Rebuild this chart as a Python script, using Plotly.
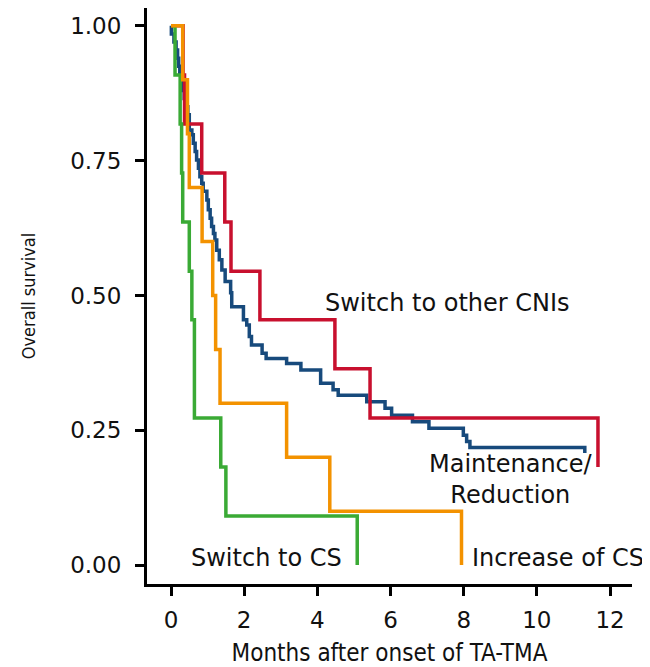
import plotly.graph_objects as go

# ---- data (months, survival probability) ----
months_maint = [0, 0.01, 0.08, 0.14, 0.18, 0.21, 0.24, 0.28, 0.32, 0.36, 0.41, 0.46,
                0.50, 0.57, 0.61, 0.66, 0.70, 0.75, 0.79, 0.84, 0.88, 0.98, 1.02, 1.07,
                1.11, 1.16, 1.20, 1.25, 1.32, 1.39, 1.48, 1.63, 1.66, 1.98, 2.07, 2.14,
                2.20, 2.49, 2.60, 3.16, 3.55, 4.09, 4.43, 4.57, 5.35, 5.85, 6.03, 6.60,
                7.05, 7.99, 8.08, 8.17, 11.31]
surv_maint = [1, 0.985, 0.97, 0.955, 0.94, 0.925, 0.91, 0.895, 0.88, 0.865, 0.85, 0.835,
              0.807, 0.798, 0.782, 0.767, 0.751, 0.736, 0.720, 0.708, 0.693, 0.677, 0.659,
              0.643, 0.628, 0.615, 0.603, 0.584, 0.566, 0.547, 0.526, 0.505, 0.479, 0.455,
              0.445, 0.424, 0.408, 0.393, 0.383, 0.374, 0.362, 0.337, 0.325, 0.315, 0.303,
              0.291, 0.278, 0.266, 0.254, 0.241, 0.229, 0.218, 0.208]

months_cni = [0, 0.33, 0.37, 0.84, 1.47, 1.64, 2.43, 4.48, 5.44, 11.67]
surv_cni = [1, 0.909, 0.818, 0.727, 0.636, 0.545, 0.455, 0.364, 0.273, 0.182]

months_cs_switch = [0, 0.11, 0.25, 0.29, 0.32, 0.50, 0.57, 0.64, 1.36, 1.50, 5.09]
surv_cs_switch = [1, 0.909, 0.818, 0.727, 0.636, 0.545, 0.455, 0.273, 0.182, 0.091, 0.0]

months_cs_incr = [0, 0.32, 0.45, 0.50, 0.85, 1.14, 1.22, 1.34, 3.16, 4.34, 7.94]
surv_cs_incr = [1, 0.9, 0.8, 0.7, 0.6, 0.5, 0.4, 0.3, 0.2, 0.1, 0.0]

x_ticks = [0, 2, 4, 6, 8, 10, 12]
y_ticks = [0, 0.25, 0.5, 0.75, 1.0]
y_tick_labels = ["0.00", "0.25", "0.50", "0.75", "1.00"]

series = [
    ("Maintenance/Reduction", months_maint, surv_maint, "#174a7c"),
    ("Switch to other CNIs", months_cni, surv_cni, "#c8102e"),
    ("Switch to CS", months_cs_switch, surv_cs_switch, "#3aaa35"),
    ("Increase of CS", months_cs_incr, surv_cs_incr, "#f39200"),
]

labels = [
    ("Switch to other CNIs", 7.56, 0.486),
    ("Maintenance/<br>Reduction", 9.29, 0.158),
    ("Switch to CS", 2.62, 0.013),
    ("Increase of CS", 10.57, 0.013),
]

fig = go.Figure()
for name, t, s, c in series:
    fig.add_trace(go.Scatter(x=t, y=s, mode="lines", name=name,
                             line=dict(shape="hv", color=c, width=3.5),
                             showlegend=False))

for text, x, y in labels:
    fig.add_annotation(x=x, y=y, xref="x", yref="y", text=text, showarrow=False,
                       font=dict(family="DejaVu Sans", size=24, color="#111"),
                       align="center", xanchor="center", yanchor="middle")

narrow = "Liberation Sans Narrow, DejaVu Sans Condensed, Arial Narrow, Liberation Sans, sans-serif"
axis_common = dict(showline=True, linecolor="black", linewidth=3, ticks="outside",
                   ticklen=9, tickwidth=2.5, tickcolor="black", showgrid=False,
                   zeroline=False, automargin=False,
                   tickfont=dict(family="DejaVu Sans", size=23, color="#111"))

fig.update_layout(
    width=642, height=659,
    margin=dict(l=139, r=18, t=0, b=83),
    paper_bgcolor="white", plot_bgcolor="white",
    xaxis=dict(range=[-0.656, 12.6], tickvals=x_ticks, ticklabelstandoff=4,
               title=dict(text="Months after onset of TA-TMA",
                          font=dict(family=narrow, size=24, color="#111"), standoff=16),
               **axis_common),
    yaxis=dict(range=[-0.035, 1.033], tickvals=y_ticks, ticktext=y_tick_labels,
               ticklabelstandoff=9,
               title=dict(text="Overall survival",
                          font=dict(family=narrow, size=18, color="#111"), standoff=30),
               **axis_common),
)

fig.write_html("out.html")
